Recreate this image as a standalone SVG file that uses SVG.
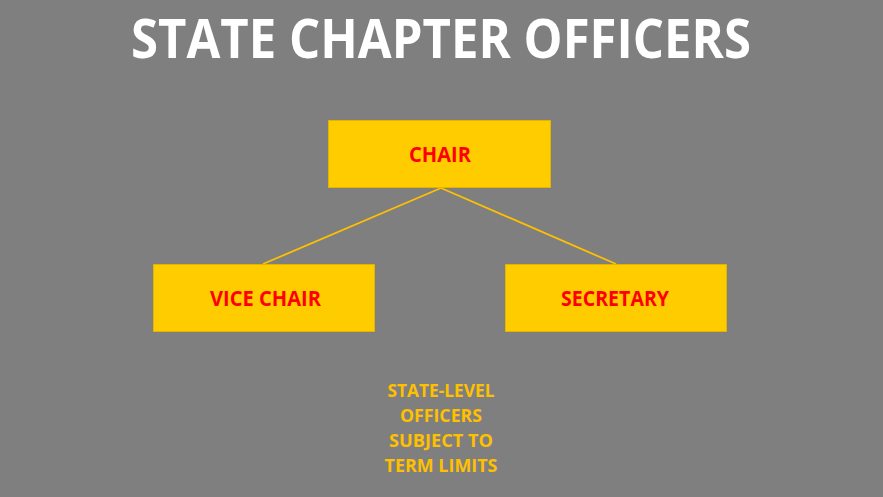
<svg xmlns="http://www.w3.org/2000/svg" width="883" height="497" viewBox="0 0 883 497">
<style>
.box{fill:#FFCC00;stroke:#E0B400;stroke-width:1}
.lbl{font-family:"Open Sans","Liberation Sans",sans-serif;font-weight:bold;font-size:21px;fill:#FF0000;text-anchor:middle}
.note{font-family:"Open Sans","Liberation Sans",sans-serif;font-weight:bold;font-size:17.5px;fill:#FFC000;text-anchor:middle}
.conn{stroke:#FFC000;stroke-width:1.8;fill:none}
</style>
<rect width="883" height="497" fill="#7F7F7F"/>
<text x="441" y="58" font-family="'Open Sans','Liberation Sans',sans-serif" font-weight="bold" font-size="53" fill="#FFFFFF" text-anchor="middle" textLength="620" lengthAdjust="spacingAndGlyphs">STATE CHAPTER OFFICERS</text>
<g id="connectors">
<line class="conn" x1="441" y1="188" x2="263" y2="264"/>
<line class="conn" x1="441" y1="188" x2="616" y2="264"/>
</g>
<g id="chair">
<rect class="box" x="328.5" y="120.5" width="222" height="67"/>
<text class="lbl" x="440" y="162" textLength="62" lengthAdjust="spacingAndGlyphs">CHAIR</text>
</g>
<g id="vice-chair">
<rect class="box" x="153.5" y="264.5" width="221" height="67"/>
<text class="lbl" x="265.5" y="306" textLength="111" lengthAdjust="spacingAndGlyphs">VICE CHAIR</text>
</g>
<g id="secretary">
<rect class="box" x="505.5" y="264.5" width="221" height="67"/>
<text class="lbl" x="615" y="306" textLength="108" lengthAdjust="spacingAndGlyphs">SECRETARY</text>
</g>
<g id="note">
<text class="note" x="441" y="397" textLength="107" lengthAdjust="spacingAndGlyphs">STATE-LEVEL</text>
<text class="note" x="441" y="422" textLength="82" lengthAdjust="spacingAndGlyphs">OFFICERS</text>
<text class="note" x="441" y="447" textLength="104" lengthAdjust="spacingAndGlyphs">SUBJECT TO</text>
<text class="note" x="441" y="472" textLength="113" lengthAdjust="spacingAndGlyphs">TERM LIMITS</text>
</g>
</svg>
